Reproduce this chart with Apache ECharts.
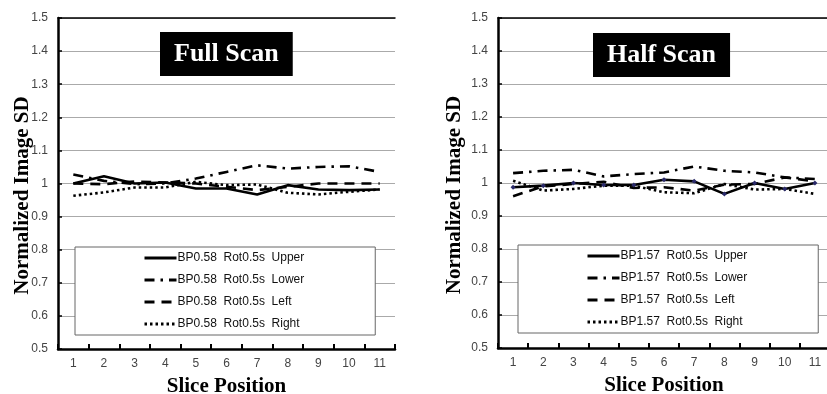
<!DOCTYPE html>
<html>
<head>
<meta charset="utf-8">
<script src="https://cdn.jsdelivr.net/npm/echarts@6/dist/echarts.min.js"></script>
<style>
html,body{margin:0;padding:0;background:#fff;}
#c{width:827px;height:394px;}
</style>
</head>
<body>
<div id="c"></div>
<script>
const categories = ['1','2','3','4','5','6','7','8','9','10','11'];

const fullUpper = [1.0, 1.022, 1.0, 1.003, 0.985, 0.985, 0.967, 0.995, 0.982, 0.98, 0.982];
const fullLower = [1.027, 1.008, 0.998, 1.0, 1.015, 1.035, 1.055, 1.045, 1.05, 1.052, 1.035];
const fullLeft  = [1.0, 0.998, 1.006, 1.003, 1.0, 0.99, 0.98, 0.99, 1.0, 1.0, 1.0];
const fullRight = [0.963, 0.973, 0.988, 0.988, 1.005, 0.995, 0.997, 0.972, 0.967, 0.975, 0.982];

const halfUpper = [0.987, 0.992, 1.0, 0.994, 0.994, 1.01, 1.005, 0.967, 1.0, 0.982, 1.0];
const halfLower = [1.03, 1.037, 1.04, 1.02, 1.027, 1.032, 1.05, 1.037, 1.032, 1.017, 1.012];
const halfLeft  = [0.96, 0.99, 0.997, 1.004, 0.985, 0.987, 0.977, 0.995, 0.997, 1.017, 1.005];
const halfRight = [1.007, 0.977, 0.982, 0.992, 0.992, 0.972, 0.969, 0.997, 0.98, 0.982, 0.967];

const fullNames = ['BP0.58  Rot0.5s  Upper','BP0.58  Rot0.5s  Lower','BP0.58  Rot0.5s  Left','BP0.58  Rot0.5s  Right'];
const halfNames = ['BP1.57  Rot0.5s  Upper','BP1.57  Rot0.5s  Lower','BP1.57  Rot0.5s  Left','BP1.57  Rot0.5s  Right'];
const panelTitles = ['Full Scan','Half Scan'];
const xTitle = 'Slice Position';
const yTitle = 'Normalized Image SD';

const dashStyles = ['solid', [10, 6, 2.5, 6], [10, 7], [2.5, 3]];

const chart = echarts.init(document.getElementById('c'), null, {renderer:'canvas'});

const grids = [
  {left:58, top:18, width:337, height:331, outerBoundsMode:'none', containLabel:false},
  {left:498, top:18, width:332, height:330, outerBoundsMode:'none', containLabel:false}
];

function makeX(gi){
  return [{
    type:'category', gridIndex:gi, data:categories, boundaryGap:true,
    axisLine:{show:true, lineStyle:{color:'#000', width:2.5}},
    axisTick:{show:true, inside:true, length:5, lineStyle:{color:'#000', width:2}},
    axisLabel:{color:'#444', fontSize:12, fontFamily:'Liberation Sans', margin:9},
    splitLine:{show:false},
    name:xTitle, nameLocation:'middle', nameGap:27, nameMoveOverlap:false,
    nameTextStyle:{fontFamily:'Liberation Serif', fontWeight:'bold', fontSize:21, color:'#000'}
  },{
    type:'category', gridIndex:gi, data:categories, position:'top',
    axisLine:{show:true, lineStyle:{color:'#000', width:1.5}},
    axisTick:{show:false}, axisLabel:{show:false}, splitLine:{show:false}
  }];
}
function makeY(gi, gap){
  return {
    type:'value', gridIndex:gi, min:0.5, max:1.5, interval:0.1,
    axisLine:{show:true, lineStyle:{color:'#000', width:2.5}},
    axisTick:{show:true, inside:true, length:4, lineStyle:{color:'#000', width:1.5}},
    axisLabel:{color:'#444', fontSize:12, fontFamily:'Liberation Sans', margin:10,
      formatter:v=>String(Math.round(v*10)/10)},
    splitLine:{show:true, lineStyle:{color:'#aaa', width:1}},
    name:yTitle, nameLocation:'middle', nameGap:gap, nameRotate:90, nameMoveOverlap:false,
    nameTextStyle:{fontFamily:'Liberation Serif', fontWeight:'bold', fontSize:21, color:'#000',
      padding:[0,24,0,0]}
  };
}

function mkSeries(names, datas, gi){
  return names.map((n,i)=>({
    name:n, type:'line', xAxisIndex:gi*2, yAxisIndex:gi, data:datas[i],
    symbol:(gi===1 && i===0)?'diamond':'none', symbolSize:5,
    showSymbol:(gi===1 && i===0),
    itemStyle:{color:(gi===1 && i===0)?'#2a2a6a':'#000'},
    lineStyle:{color:'#000', width:2.6, type:dashStyles[i]},
    animation:false, z:2
  }));
}

const series = [].concat(
  mkSeries(fullNames, [fullUpper, fullLower, fullLeft, fullRight], 0),
  mkSeries(halfNames, [halfUpper, halfLower, halfLeft, halfRight], 1)
);

function mkLegend(names, left, top){
  return {
    data:names.map(n=>({name:n, itemStyle:{opacity:0}})),
    orient:'vertical', left:left, top:top,
    padding:[5, 71, 5, 68], itemGap:10, itemWidth:32, itemHeight:12,
    backgroundColor:'#fff', borderColor:'#666', borderWidth:1,
    itemStyle:{opacity:0},
    lineStyle:{width:3},
    textStyle:{fontFamily:'Liberation Sans', fontSize:12, color:'#111', padding:[0,0,0,-4]}
  };
}

chart.setOption({
  backgroundColor:'#fff',
  animation:false,
  title:[
    {text:panelTitles[0], left:160, top:32, backgroundColor:'#000', padding:[9,14,9,14],
     textStyle:{color:'#fff', fontFamily:'Liberation Serif', fontWeight:'bold', fontSize:26, lineHeight:26}},
    {text:panelTitles[1], left:593, top:33, backgroundColor:'#000', padding:[9,14,9,14],
     textStyle:{color:'#fff', fontFamily:'Liberation Serif', fontWeight:'bold', fontSize:26, lineHeight:26}}
  ],
  grid:grids,
  xAxis:makeX(0).concat(makeX(1)),
  yAxis:[makeY(0, 25), makeY(1, 33)],
  legend:[mkLegend(fullNames, 75, 247), mkLegend(halfNames, 518, 245)],
  series:series
});
</script>
</body>
</html>
